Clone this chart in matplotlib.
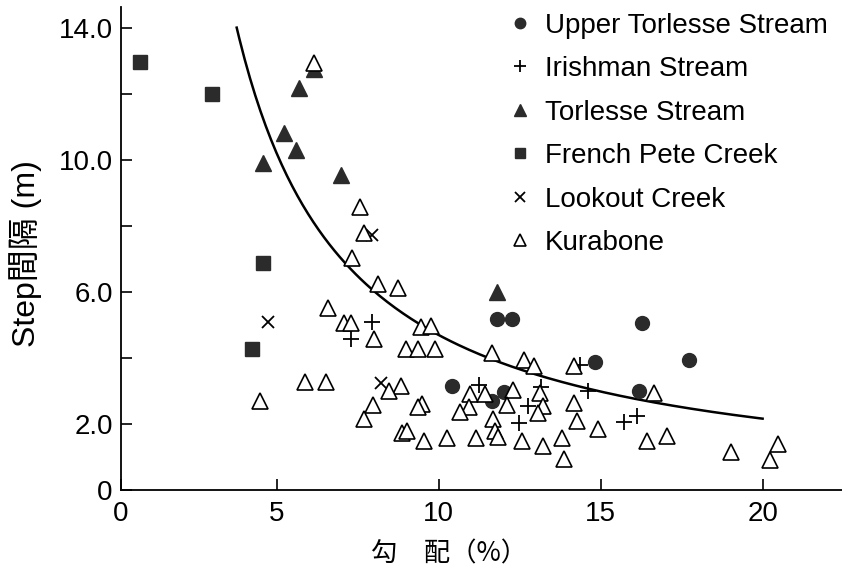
import matplotlib
matplotlib.use("Agg")
import matplotlib.pyplot as plt
import numpy as np

# Upper Torlesse Stream
upper_x = [11.79, 12.27, 16.27, 14.83, 17.72, 10.40, 12.02, 11.64, 16.19]
upper_y = [5.20, 5.20, 5.08, 3.89, 3.94, 3.16, 2.96, 2.69, 3.01]

# Irishman Stream
irish_x = [7.96, 7.29, 11.24, 13.16, 12.75, 12.48, 14.36, 14.62, 16.13, 15.73]
irish_y = [5.11, 4.58, 3.18, 3.13, 2.55, 2.03, 3.79, 2.99, 2.25, 2.05]

# Torlesse Stream
torl_x = [6.15, 5.69, 5.22, 5.60, 4.59, 7.00, 11.79]
torl_y = [12.76, 12.18, 10.82, 10.31, 9.93, 9.55, 6.02]

# French Pete Creek
french_x = [0.80, 3.01, 4.59, 4.23]
french_y = [12.99, 12.00, 6.88, 4.27]

# Lookout Creek
lookout_x = [7.95, 4.74, 8.21]
lookout_y = [7.73, 5.11, 3.24]

# Kurabone
kura_x = [6.15, 7.59, 7.71, 7.33, 8.12, 8.75, 6.60, 7.09, 7.30, 8.01,
          9.45, 9.78, 9.01, 9.38, 9.88, 5.89, 6.54, 4.48, 8.84, 8.46,
          7.97, 7.69, 9.48, 9.37, 8.86, 9.04, 11.64, 12.63, 12.94, 14.19,
          16.65, 10.97, 11.43, 12.30, 13.13, 10.94, 10.66, 12.10, 13.21, 13.07,
          14.19, 11.69, 14.26, 11.74, 11.82, 14.93, 9.56, 10.25, 11.15, 12.58,
          13.23, 13.80, 13.87, 16.44, 17.04, 19.02, 20.48, 20.23]
kura_y = [12.96, 8.57, 7.78, 7.05, 6.24, 6.12, 5.52, 5.06, 5.06, 4.58,
          4.95, 4.96, 4.29, 4.29, 4.29, 3.29, 3.29, 2.71, 3.14, 2.99,
          2.59, 2.15, 2.61, 2.51, 1.72, 1.80, 4.17, 3.94, 3.75, 3.77,
          2.94, 2.91, 2.91, 3.03, 2.93, 2.51, 2.38, 2.59, 2.55, 2.33,
          2.63, 2.15, 2.10, 1.80, 1.62, 1.85, 1.49, 1.58, 1.58, 1.48,
          1.32, 1.58, 0.94, 1.49, 1.65, 1.14, 1.39, 0.91]

# fitted power curve  y = a * x^b
fit_a, fit_b = 62.0, -1.12
fit_range = (3.77, 20.0)

plt.rcParams['font.family'] = ['Liberation Sans', 'Noto Sans CJK JP', 'DejaVu Sans']
dark = '#2b2b2b'

fig = plt.figure(figsize=(8.42, 5.71), dpi=100)
ax = fig.add_axes([121/842, 81/571, 721/842, 483/571])

xs = np.linspace(fit_range[0], fit_range[1], 200)
ax.plot(xs, fit_a * xs**fit_b, color='black', lw=1.8, zorder=2)

ax.plot(upper_x, upper_y, 'o', ms=10, color=dark, mec=dark, label='Upper Torlesse Stream', zorder=3)
ax.plot(irish_x, irish_y, '+', ms=11, mew=1.3, color='black', label='Irishman Stream', zorder=3)
ax.plot(torl_x, torl_y, '^', ms=11.5, color=dark, mec=dark, label='Torlesse Stream', zorder=3)
ax.plot(french_x, french_y, 's', ms=9.5, color=dark, mec=dark, label='French Pete Creek', zorder=3)
ax.plot(lookout_x, lookout_y, 'x', ms=9, mew=1.3, color='black', label='Lookout Creek', zorder=3)
ax.plot(kura_x, kura_y, '^', ms=11.5, mfc='white', mec='black', mew=1.2, label='Kurabone', zorder=4)

ax.set_xlim(0.2, 22.45)
ax.set_ylim(0, 14.65)
ax.set_xticks([0.2, 5, 10, 15, 20], ['0', '5', '10', '15', '20'])
ax.set_yticks([0, 2, 4, 6, 8, 10, 12, 14], ['0', '2.0', '', '6.0', '', '10.0', '', '14.0'])
ax.tick_params(axis='both', direction='in', length=8, width=1.2, labelsize=20)
ax.tick_params(axis='x', pad=8)
ax.tick_params(axis='y', pad=6)
for s in ['top', 'right']:
    ax.spines[s].set_visible(False)
for s in ['left', 'bottom']:
    ax.spines[s].set_linewidth(1.3)

ax.set_xlabel('勾\u3000配（%）', fontsize=19, family=['Noto Sans CJK JP'])
ax.xaxis.set_label_coords(0.455, -0.105)
ax.set_ylabel('Step間隔 (m)', fontsize=23)
ax.yaxis.set_label_coords(-0.11, 0.49)

ax.legend(loc='upper left', bbox_to_anchor=(509/842, 0.978), bbox_transform=fig.transFigure,
          frameon=False, fontsize=20, markerscale=0.75, handlelength=0.8,
          handletextpad=0.5, labelspacing=0.63, borderpad=0, borderaxespad=0, numpoints=1)

plt.savefig('out.png', dpi=100)
